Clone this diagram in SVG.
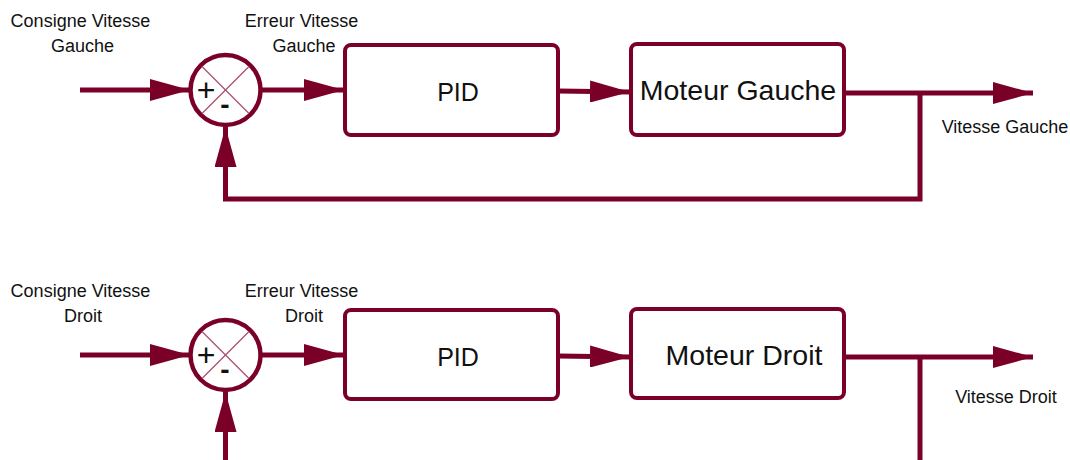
<svg xmlns="http://www.w3.org/2000/svg" width="1070" height="460" viewBox="0 0 1070 460">
<defs>
<style>
.ln{fill:none;stroke:#7b0028;stroke-width:5}
.box{fill:#fff;stroke:#7b0028;stroke-width:4}
.sum{fill:#fff;stroke:#7b0028;stroke-width:4.5}
.x{stroke:#a8506e;stroke-width:1.2}
.lbl{font-family:"Liberation Sans",Arial,sans-serif;font-size:18px;fill:#111;text-anchor:middle}
.big{font-family:"Liberation Sans",Arial,sans-serif;font-size:28.5px;fill:#111;text-anchor:middle}
.sg{font-family:"Liberation Sans",Arial,sans-serif;fill:#111;text-anchor:middle}
</style>
<marker id="ah" markerUnits="userSpaceOnUse" markerWidth="42" markerHeight="22" refX="40" refY="11" orient="auto">
<path d="M0,0 L40,11 L0,22 z" fill="#7b0028"/>
</marker>
</defs>
<rect width="1070" height="460" fill="#fff"/>

<g id="connectors">
<line class="ln" x1="80" y1="90" x2="190" y2="90" marker-end="url(#ah)"/>
<line class="ln" x1="262" y1="90" x2="344" y2="90" marker-end="url(#ah)"/>
<line class="ln" x1="558" y1="91" x2="630" y2="92" marker-end="url(#ah)"/>
<line class="ln" x1="845" y1="93" x2="1033" y2="93" marker-end="url(#ah)"/>
<polyline class="ln" points="920,93 920,199 225.5,199 225.5,127" marker-end="url(#ah)"/>

<line class="ln" x1="80" y1="355" x2="190" y2="355" marker-end="url(#ah)"/>
<line class="ln" x1="262" y1="355" x2="344" y2="355" marker-end="url(#ah)"/>
<line class="ln" x1="558" y1="356" x2="630" y2="357" marker-end="url(#ah)"/>
<line class="ln" x1="845" y1="357" x2="1033" y2="357" marker-end="url(#ah)"/>
<line class="ln" x1="920" y1="357" x2="920" y2="462"/>
<line class="ln" x1="225.5" y1="462" x2="225.5" y2="392" marker-end="url(#ah)"/>
</g>

<g id="sum-gauche">
<circle class="sum" cx="225.5" cy="90" r="35"/>
<line class="x" x1="202" y1="66.5" x2="249" y2="113.5"/>
<line class="x" x1="249" y1="66.5" x2="202" y2="113.5"/>
<text class="sg" x="206" y="101" font-size="32">+</text>
<text class="sg" x="225" y="113.5" font-size="28" font-weight="bold">-</text>
</g>
<g id="pid-gauche">
<rect class="box" x="345" y="45" width="213" height="90" rx="6"/>
<text class="big" x="458" y="101" style="font-size:25px">PID</text>
</g>
<g id="moteur-gauche">
<rect class="box" x="631" y="44" width="213" height="91" rx="6"/>
<text class="big" x="738" y="100">Moteur Gauche</text>
</g>

<g id="sum-droit">
<circle class="sum" cx="225.5" cy="355" r="35"/>
<line class="x" x1="202" y1="331.5" x2="249" y2="378.5"/>
<line class="x" x1="249" y1="331.5" x2="202" y2="378.5"/>
<text class="sg" x="206" y="366" font-size="32">+</text>
<text class="sg" x="225" y="378.5" font-size="28" font-weight="bold">-</text>
</g>
<g id="pid-droit">
<rect class="box" x="345" y="310" width="213" height="89" rx="6"/>
<text class="big" x="458" y="366" style="font-size:25px">PID</text>
</g>
<g id="moteur-droit">
<rect class="box" x="631" y="309" width="213" height="89" rx="6"/>
<text class="big" x="744" y="365">Moteur Droit</text>
</g>

<g id="labels">
<text class="lbl" x="80.5" y="27">Consigne Vitesse</text>
<text class="lbl" x="82.5" y="52">Gauche</text>
<text class="lbl" x="301.5" y="27">Erreur Vitesse</text>
<text class="lbl" x="304" y="52">Gauche</text>
<text class="lbl" x="1005" y="133">Vitesse Gauche</text>
<text class="lbl" x="80.5" y="297">Consigne Vitesse</text>
<text class="lbl" x="83" y="322">Droit</text>
<text class="lbl" x="301.5" y="297">Erreur Vitesse</text>
<text class="lbl" x="304" y="322">Droit</text>
<text class="lbl" x="1006" y="403">Vitesse Droit</text>
</g>
</svg>
